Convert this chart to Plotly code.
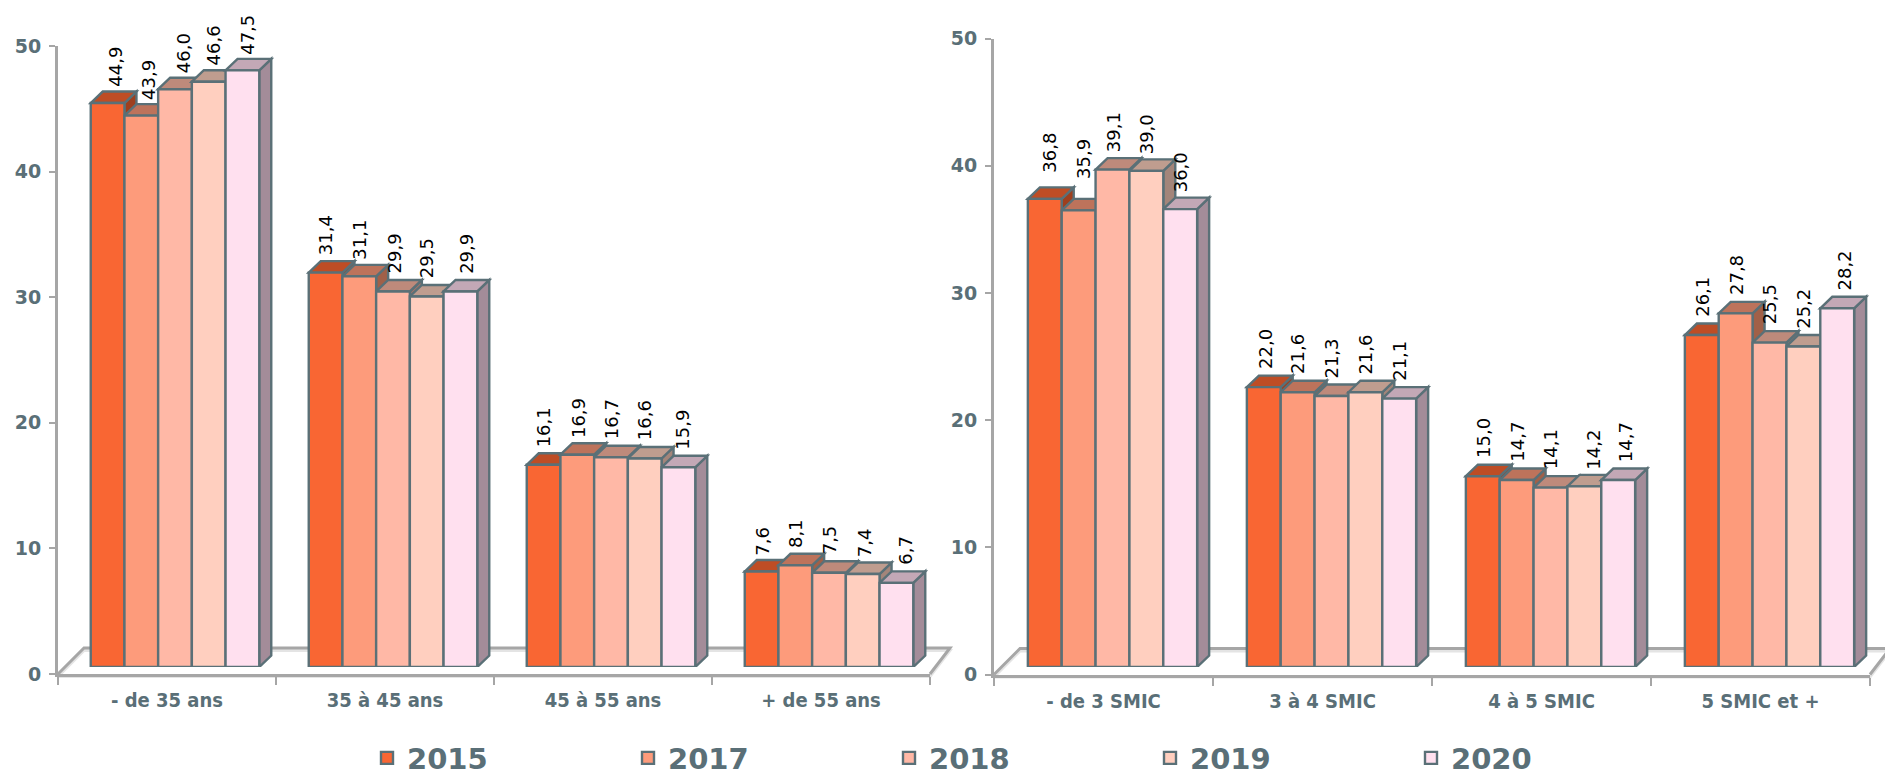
import plotly.graph_objects as go

YEARS = ["2015", "2017", "2018", "2019", "2020"]
AGE_CATS = ["- de 35 ans", "35 à 45 ans", "45 à 55 ans", "+ de 55 ans"]
AGE_2015 = [44.9, 31.4, 16.1, 7.6]
AGE_2017 = [43.9, 31.1, 16.9, 8.1]
AGE_2018 = [46.0, 29.9, 16.7, 7.5]
AGE_2019 = [46.6, 29.5, 16.6, 7.4]
AGE_2020 = [47.5, 29.9, 15.9, 6.7]
SMIC_CATS = ["- de 3 SMIC", "3 à 4 SMIC", "4 à 5 SMIC", "5 SMIC et +"]
SMIC_2015 = [36.8, 22.0, 15.0, 26.1]
SMIC_2017 = [35.9, 21.6, 14.7, 27.8]
SMIC_2018 = [39.1, 21.3, 14.1, 25.5]
SMIC_2019 = [39.0, 21.6, 14.2, 25.2]
SMIC_2020 = [36.0, 21.1, 14.7, 28.2]
Y_TICKS = [0, 10, 20, 30, 40, 50]

FRONT = ["#F96633", "#FD9B7B", "#FFB8A6", "#FFCFBF", "#FFE0EF"]
TOP = ["#BE4D25", "#BD735B", "#BE8A7B", "#BF9D8F", "#C3A8B6"]
SIDE = ["#9E3F1E", "#A16048", "#A1756A", "#A3857A", "#A38C99"]
EDGE = "#5A7077"
AXIS = "#A6A6A6"
SHADOW = "#E4E4E4"
TEXT = "#5A6F77"
W, H = 1885, 776
BARGAP = 0.227
DEPTH_X, DEPTH_Y = 12, 11.5
EDGE_W = 2.4

# label nudges in pixels, [category][series]
AGE_XS = [[7, 7, 8, 5, 5], [0, 0, 1, 0, 6], [0, 1, 0, 0, 4], [0, 0, 0, 2, 9]]
AGE_YS = [[14, 14, 14, 14, 14], [15, 15, 16, 16, 16], [15, 15, 16, 16, 16], [14, 15, 16, 15, 16]]
SMIC_XS = [[5, 5, 1, 1, 0], [1, 0, 0, 0, 0], [0, 0, 0, 9, 7], [0, 1, 0, 0, 7]]
SMIC_YS = [[24, 29, 15, 15, 15], [16, 16, 15, 16, 16], [16, 16, 16, 15, 16], [16, 16, 16, 16, 16]]


def px(v):
    return v / W


def py(v):
    return 1 - v / H


PANELS = [
    dict(cats=AGE_CATS, series=[AGE_2015, AGE_2017, AGE_2018, AGE_2019, AGE_2020], xs=AGE_XS, ys=AGE_YS,
         x0=58, x1=930, y50=46, y0=674, shift=(8, 7), ax=("x", "y"), hid=("x3", "y3"), legend=True),
    dict(cats=SMIC_CATS, series=[SMIC_2015, SMIC_2017, SMIC_2018, SMIC_2019, SMIC_2020], xs=SMIC_XS, ys=SMIC_YS,
         x0=994, x1=1870, y50=38.5, y0=674.5, shift=(9, 7.5), ax=("x2", "y2"), hid=("x4", "y4"), legend=False),
]

fig = go.Figure()
shapes, annotations = [], []
layout = {}


def axname(a):
    return ("xaxis" if a[0] == "x" else "yaxis") + a[1:]


for p in PANELS:
    sx, sy = p["shift"]
    n = len(p["cats"])
    cat_px = (p["x1"] - p["x0"]) / n
    unit_py = (p["y0"] - p["y50"]) / 50
    ddx, ddy = DEPTH_X / cat_px, DEPTH_Y / unit_py
    bw = (1 - BARGAP) / len(YEARS)

    # visible axes
    fig.add_trace(go.Scatter(x=p["cats"], y=[0] * n, xaxis=p["ax"][0], yaxis=p["ax"][1], mode="markers",
                             marker=dict(opacity=0), showlegend=False, hoverinfo="skip"))
    layout[axname(p["ax"][0])] = dict(
        domain=[px(p["x0"]), px(p["x1"])], anchor=p["ax"][1], type="category", categoryorder="array",
        categoryarray=p["cats"], range=[-0.5, n - 0.5], tickson="boundaries", ticks="outside", ticklen=8,
        tickcolor=AXIS, tickwidth=2, showline=True, linecolor=AXIS, linewidth=3, showgrid=False, zeroline=False,
        ticklabelstandoff=6, tickfont=dict(family="DejaVu Sans Condensed", size=20, color=TEXT, weight="bold"))
    layout[axname(p["ax"][1])] = dict(
        domain=[py(p["y0"]), py(p["y50"])], anchor=p["ax"][0], range=[0, 50], tickvals=Y_TICKS, ticks="outside",
        ticklen=6, tickcolor=AXIS, tickwidth=2, showline=True, linecolor=AXIS, linewidth=3, showgrid=False,
        zeroline=False, ticklabelstandoff=4, tickfont=dict(family="DejaVu Sans", size=19, color=TEXT, weight="bold"))
    # hidden axes for the front plane of the bars
    layout[axname(p["hid"][0])] = dict(
        domain=[px(p["x0"] + sx), px(p["x1"] + sx)], anchor=p["hid"][1], range=[-0.5, n - 0.5], visible=False)
    layout[axname(p["hid"][1])] = dict(
        domain=[py(p["y0"] - sy), py(p["y50"] - sy)], anchor=p["hid"][0], range=[0, 50], visible=False)

    # floor and its soft shadow
    back = p["y0"] - 26
    for off, col in ((2.5, SHADOW), (0, AXIS)):
        shapes.append(dict(type="path", xref="paper", yref="paper", line=dict(color=col, width=3), layer="below",
                           path=f"M{px(p['x0'])},{py(p['y0'] + off)} L{px(p['x0'] + 26)},{py(back + off)} "
                                f"L{px(p['x1'] + 20)},{py(back + off)} L{px(p['x1'])},{py(p['y0'] + off)} "
                                + (f"L{px(p['x0'])},{py(p['y0'] + off)}" if off else "")))

    for k, (yr, vals) in enumerate(zip(YEARS, p["series"])):
        fig.add_trace(go.Bar(x=list(range(n)), y=vals, name=yr, xaxis=p["hid"][0], yaxis=p["hid"][1],
                             marker=dict(color=FRONT[k], line=dict(color=EDGE, width=EDGE_W)),
                             legendgroup=yr, showlegend=p["legend"], hoverinfo="skip"))
    for i in range(n):
        for k, vals in enumerate(p["series"]):
            v = vals[i]
            l = i + (k - len(YEARS) / 2) * bw
            r = l + bw
            line = dict(color=EDGE, width=EDGE_W)
            base = dict(type="path", xref=p["hid"][0], yref=p["hid"][1], layer="below", line=line)
            shapes.append(dict(base, fillcolor=SIDE[k],
                               path=f"M{r},{v} L{r + ddx},{v + ddy} L{r + ddx},{ddy} L{r},0 Z"))
            shapes.append(dict(base, fillcolor=TOP[k],
                               path=f"M{l},{v} L{l + ddx},{v + ddy} L{r + ddx},{v + ddy} L{r},{v} Z"))
            annotations.append(dict(x=(l + r) / 2, y=v, xref=p["hid"][0], yref=p["hid"][1], xanchor="center",
                                    yanchor="bottom", xshift=p["xs"][i][k], yshift=p["ys"][i][k], showarrow=False,
                                    textangle=-90, text=f"{v:.1f}".replace(".", ","),
                                    font=dict(family="DejaVu Sans", size=18, color="#000000")))

fig.update_layout(
    width=W, height=H, margin=dict(l=0, r=0, t=0, b=0, autoexpand=False), paper_bgcolor="white",
    plot_bgcolor="rgba(0,0,0,0)",
    barmode="group", bargap=BARGAP, bargroupgap=0, shapes=shapes, annotations=annotations,
    legend=dict(orientation="h", x=px(367), y=py(758), xanchor="left", yanchor="middle", entrywidth=216,
                entrywidthmode="pixels", itemwidth=30, traceorder="normal", itemclick=False, itemdoubleclick=False,
                font=dict(family="DejaVu Sans", size=29, color=TEXT, weight="bold")),
    **layout)

fig.write_html("out.html", config={"displayModeBar": False},
               post_script="document.body.style.margin='0';document.body.style.overflow='hidden';")
